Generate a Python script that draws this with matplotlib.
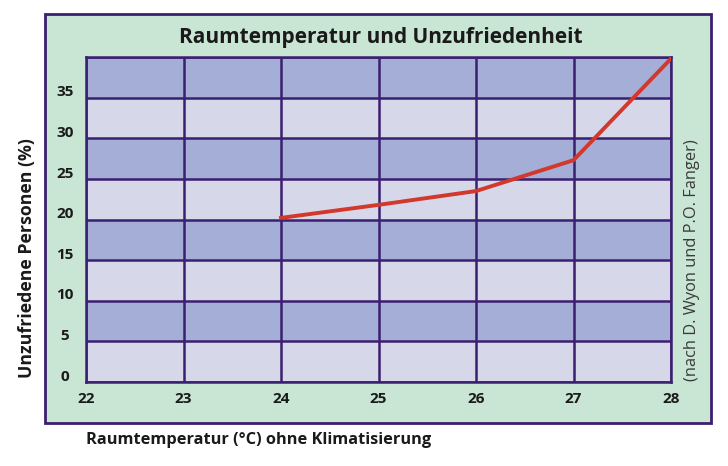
import matplotlib
matplotlib.use("Agg")
import matplotlib.pyplot as plt
from matplotlib.patches import Rectangle

temps = [24, 25, 26, 27, 28]
unzufrieden = [20.2, 21.8, 23.5, 27.3, 39.8]
x_ticks = [22, 23, 24, 25, 26, 27, 28]
y_ticks = [0, 5, 10, 15, 20, 25, 30, 35]
band_edges = [0, 5, 10, 15, 20, 25, 30, 35, 40]

title = "Raumtemperatur und Unzufriedenheit"
xlabel = "Raumtemperatur (°C) ohne Klimatisierung"
ylabel = "Unzufriedene Personen (%)"
note = "(nach D. Wyon und P.O. Fanger)"

plt.rcParams['font.family'] = ['Open Sans', 'DejaVu Sans']

GREEN = "#c9e5d3"
DARK = "#a5aed6"
LIGHT = "#d6d8ea"
BORDER = "#3b1f70"
RED = "#d2382b"
TEXT = "#1a1a1a"

fig = plt.figure(figsize=(7.28, 4.66), dpi=100)
fig.patch.set_facecolor("white")

# green panel
panel = Rectangle((45 / 728, 1 - 423 / 466), (711 - 45) / 728, (423 - 14) / 466,
                  transform=fig.transFigure, facecolor=GREEN, edgecolor=BORDER,
                  linewidth=2.0, zorder=-5)
fig.patches.append(panel)

ax = fig.add_axes([86 / 728, 1 - 382 / 466, 585 / 728, 325 / 466])
ax.set_zorder(2)
ax.patch.set_alpha(0)
ax.set_xlim(22, 28)
ax.set_ylim(0, 40)

for i in range(len(band_edges) - 1):
    color = LIGHT if i % 2 == 0 else DARK
    ax.axhspan(band_edges[i], band_edges[i + 1], facecolor=color, edgecolor="none", zorder=0)

for y in band_edges:
    ax.axhline(y, color=BORDER, linewidth=1.8, zorder=1)
for x in x_ticks:
    ax.axvline(x, color=BORDER, linewidth=1.8, zorder=1)

ax.plot(temps, unzufrieden, color=RED, linewidth=2.8, zorder=3, solid_joinstyle="miter")

for s in ax.spines.values():
    s.set_color(BORDER)
    s.set_linewidth(1.8)

ax.set_xticks(x_ticks)
ax.set_xticklabels([str(v) for v in x_ticks], fontsize=11, fontweight="bold", color=TEXT)
ax.set_yticks([])
ax.tick_params(axis="x", length=0, pad=7)
for v in y_ticks:
    ax.text(-0.036, v + 0.65, str(v), transform=ax.get_yaxis_transform(),
            ha="center", va="center", fontsize=11, fontweight="bold", color=TEXT)

fig.text(381 / 728, 1 - 37 / 466, title, ha="center", va="center",
         fontsize=15, fontweight="bold", color=TEXT)
fig.text(86 / 728, 1 - 440 / 466, xlabel, ha="left", va="center",
         fontsize=11.8, fontweight="bold", color=TEXT)
fig.text(27 / 728, 1 - 258 / 466, ylabel, ha="center", va="center", rotation=90,
         fontsize=12.8, fontweight="bold", color=TEXT)
fig.text(692 / 728, 1 - 260 / 466, note, ha="center", va="center", rotation=90,
         fontsize=11.8, color="#3a3a3a")

fig.savefig("out.png", dpi=100)
